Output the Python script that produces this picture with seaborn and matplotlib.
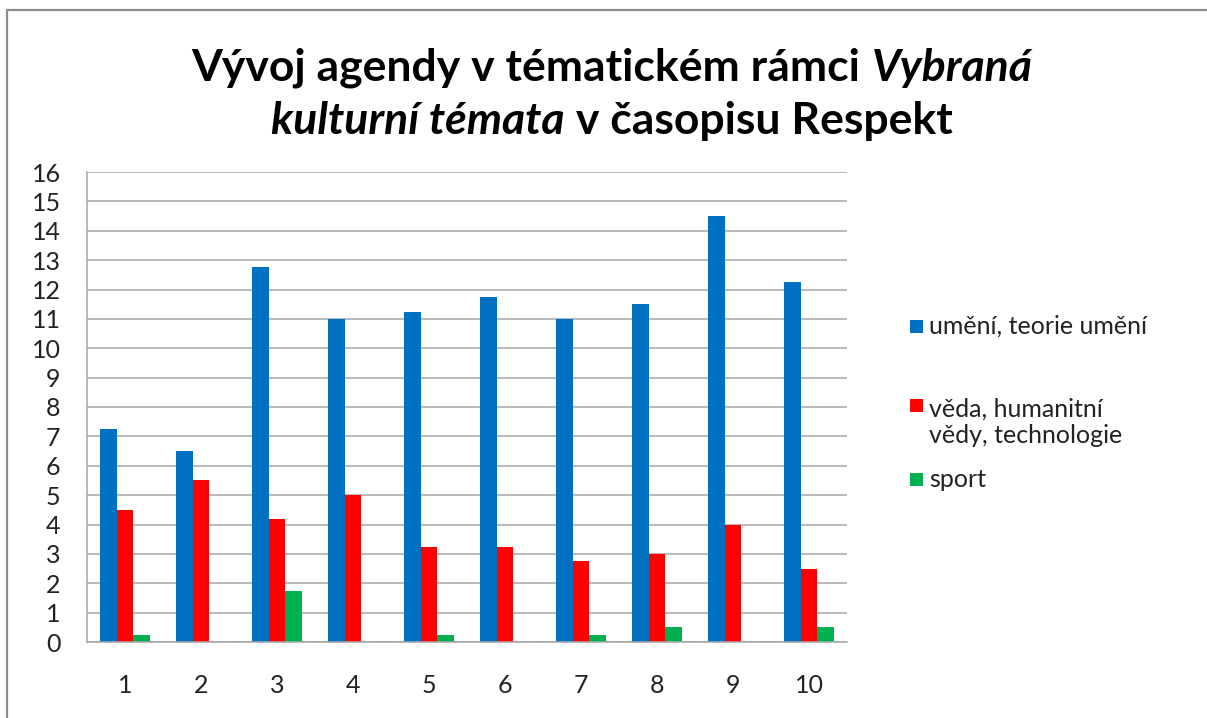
import matplotlib
matplotlib.use("Agg")
import matplotlib.pyplot as plt
import seaborn as sns
import pandas as pd
from matplotlib.patches import Rectangle
from matplotlib.lines import Line2D

# data
cisla = [1, 2, 3, 4, 5, 6, 7, 8, 9, 10]
umeni = [7.25, 6.5, 12.75, 11, 11.25, 11.75, 11, 11.5, 14.5, 12.25]
veda = [4.5, 5.5, 4.2, 5, 3.25, 3.25, 2.75, 3, 4, 2.5]
sport = [0.25, 0, 1.75, 0, 0.25, 0, 0.25, 0.5, 0, 0.5]

kategorie = ["umění, teorie umění", "věda, humanitní\nvědy, technologie", "sport"]
barvy = ["#0070C0", "#FF0000", "#00B050"]

df = pd.DataFrame({
    "cislo": cisla * 3,
    "hodnota": umeni + veda + sport,
    "kategorie": [kategorie[0]] * 10 + [kategorie[1]] * 10 + [kategorie[2]] * 10,
})

sns.set_theme(style="white")
plt.rcParams["font.family"] = ["Lato", "DejaVu Sans"]

W, H = 1207, 718
fig = plt.figure(figsize=(W / 100, H / 100), dpi=100)
ax = fig.add_axes([87 / W, 1 - 642 / H, (847 - 87) / W, (642 - 172) / H])

sns.barplot(data=df, x="cislo", y="hodnota", hue="kategorie", hue_order=kategorie,
            palette=barvy, width=0.67, saturation=1, legend=False, ax=ax,
            edgecolor="none", linewidth=0)

ax.set_ylim(0, 16)
ax.set_yticks(range(0, 17))
ax.set_xlabel("")
ax.set_ylabel("")
ax.yaxis.grid(True, color="#a6a6a6", linewidth=1.1)
ax.set_axisbelow(True)
for s in ["top", "right"]:
    ax.spines[s].set_visible(False)
for s in ["left", "bottom"]:
    ax.spines[s].set_color("#a6a6a6")
    ax.spines[s].set_linewidth(1.1)
ax.tick_params(axis="y", length=0, pad=19, labelsize=18, colors="#222222")
ax.tick_params(axis="x", length=0, pad=23, labelsize=18, colors="#222222")

# titulek po kouscich (tucne / tucne kurziva)
radky = [
    ([("Vývoj agendy v tématickém rámci ", "normal"), ("Vybraná", "italic")], 1 - 81 / H),
    ([("kulturní témata", "italic"), (" v časopisu Respekt", "normal")], 1 - 134 / H),
]
stred = 612 / W
fig.canvas.draw()
r = fig.canvas.get_renderer()
for kusy, yb in radky:
    texty = []
    for t, st in kusy:
        texty.append(fig.text(0, yb, t, fontsize=32, fontweight="bold", fontstyle=st,
                              va="baseline", ha="left", color="black"))
    sirky = [tx.get_window_extent(r).width / W for tx in texty]
    x = stred - sum(sirky) / 2
    for tx, s in zip(texty, sirky):
        tx.set_x(x)
        x += s

# legenda (ctverecek u prvniho radku popisku)
leg_y = [326, 405, 479]
for k, b, y in zip(kategorie, barvy, leg_y):
    fig.patches.append(Rectangle((910 / W, 1 - (y + 7) / H), 13 / W, 13 / H,
                                 facecolor=b, edgecolor="none", transform=fig.transFigure))
    n = k.count("\n")
    fig.text(929 / W, 1 - (y + 8 + 30 * n) / H, k, fontsize=18, va="baseline", ha="left",
             color="#222222", linespacing=1.2)

# ramecek
fig.lines.append(Line2D([7 / W, 7 / W], [0, 1 - 10 / H], color="#8c8c8c", lw=1.6,
                        transform=fig.transFigure))
fig.lines.append(Line2D([7 / W, 1], [1 - 10 / H, 1 - 10 / H], color="#8c8c8c", lw=1.6,
                        transform=fig.transFigure))

fig.savefig("out.png", dpi=100, facecolor="white")
